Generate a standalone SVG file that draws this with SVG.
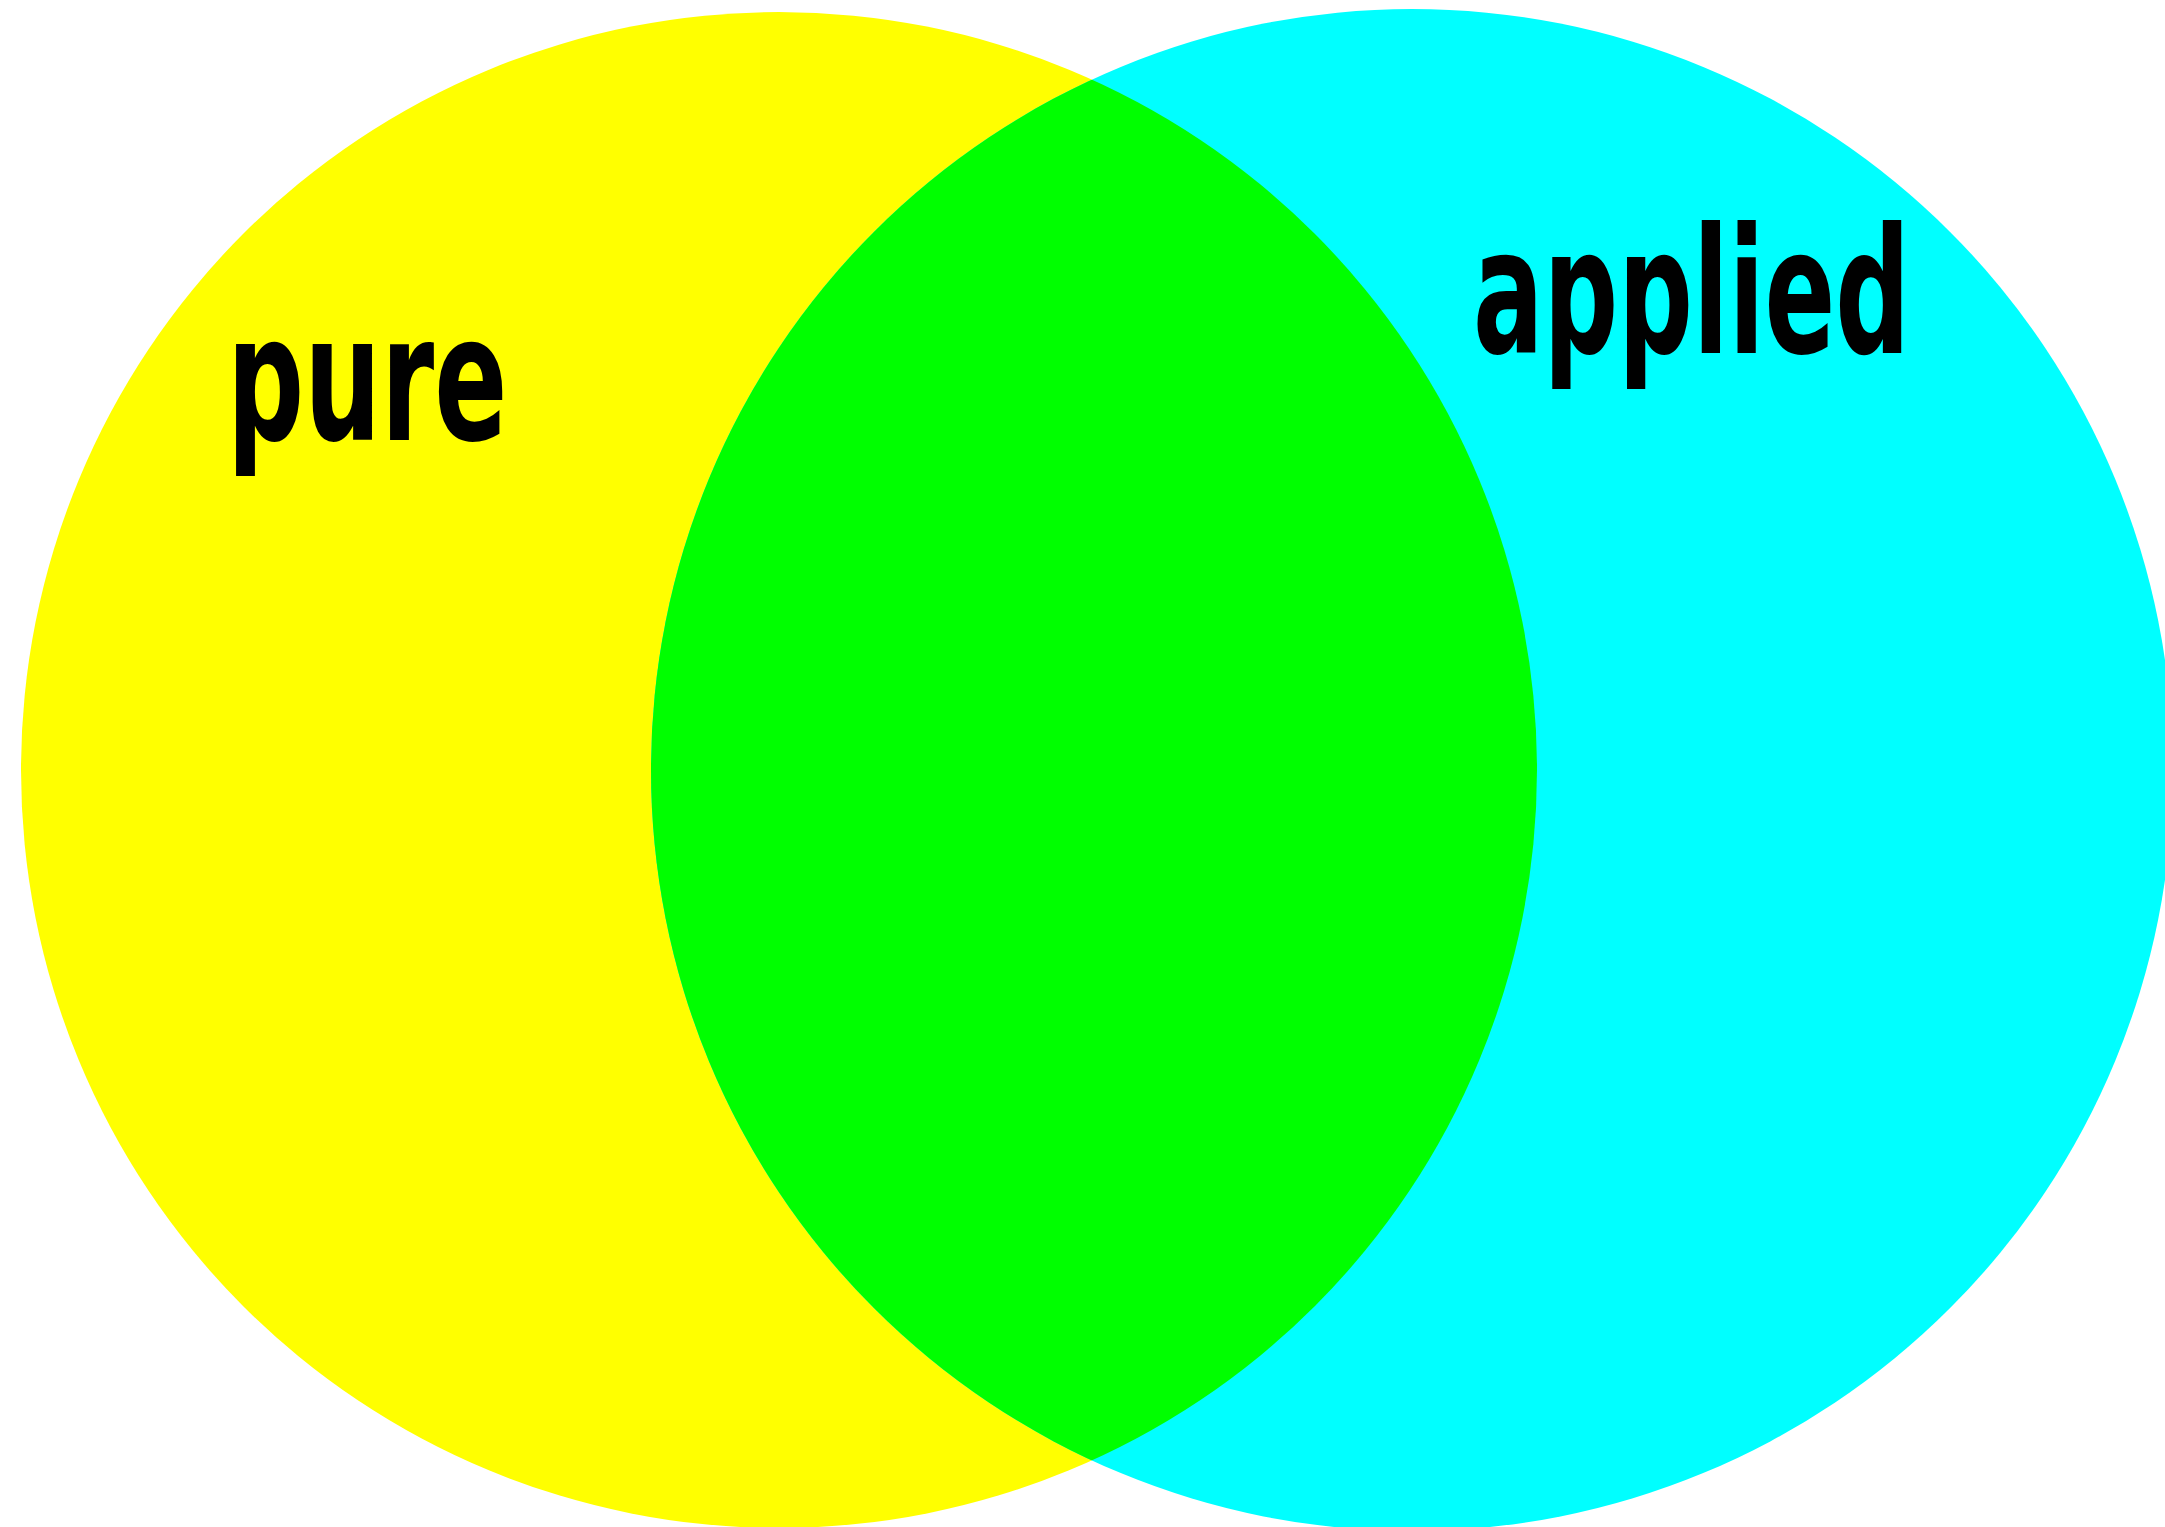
<svg xmlns="http://www.w3.org/2000/svg" width="2165" height="1527" viewBox="0 0 2165 1527">
  <style>
    .label { font-family: "DejaVu Sans", "Liberation Sans", sans-serif; font-weight: bold; font-size: 174px; fill: #000000; }
  </style>
  <defs>
    <clipPath id="clip-pure">
      <circle cx="779" cy="770" r="758"/>
    </clipPath>
  </defs>
  <rect x="0" y="0" width="2165" height="1527" fill="#ffffff"/>
  <g id="set-pure">
    <circle cx="779" cy="770" r="758" fill="#ffff00"/>
    <text class="label" transform="translate(227,440) scale(0.62,1)" x="0" y="0">pure</text>
  </g>
  <g id="set-applied">
    <circle cx="1412" cy="770" r="761" fill="#00ffff"/>
    <text class="label" transform="translate(1473,353) scale(0.6,1)" x="0" y="0">applied</text>
  </g>
  <g id="overlap">
    <circle cx="1412" cy="770" r="761" fill="#00ff00" clip-path="url(#clip-pure)"/>
  </g>
  <g id="connectors"/>
</svg>
